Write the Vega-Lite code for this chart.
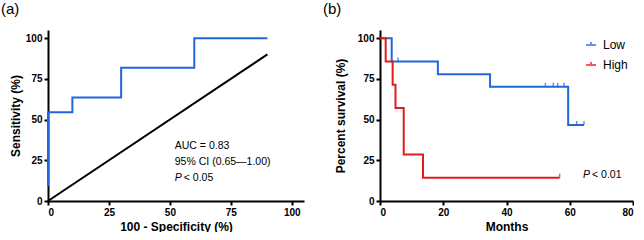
{
  "$schema": "https://vega.github.io/schema/vega-lite/v6.json",
  "padding": {"left": 1, "top": 2, "right": 0, "bottom": 0},
  "bounds": "flush",
  "spacing": 76,
  "config": {
    "font": "Liberation Sans",
    "view": {"stroke": null},
    "axis": {
      "domainColor": "black", "domainWidth": 2, "tickColor": "black", "tickWidth": 2, "tickSize": 4,
      "labelFont": "Liberation Sans", "labelFontWeight": "bold", "labelFontSize": 10, "labelColor": "black", "labelPadding": 2,
      "titleFont": "Liberation Sans", "titleFontWeight": "bold", "titleFontSize": 12, "titleColor": "black",
      "grid": false
    },
    "title": {"font": "Liberation Sans", "fontSize": 15, "fontWeight": "normal", "anchor": "start", "frame": "group", "color": "black", "offset": 13}
  },
  "datasets": {
    "roc": [
      {"i": 0, "fpr": 0, "sens": 9.09},
      {"i": 1, "fpr": 0, "sens": 54.5},
      {"i": 2, "fpr": 10, "sens": 63.6},
      {"i": 3, "fpr": 30, "sens": 81.8},
      {"i": 4, "fpr": 60, "sens": 100},
      {"i": 5, "fpr": 90, "sens": 100}
    ],
    "diag": [
      {"fpr": 0, "sens": 0},
      {"fpr": 90, "sens": 90}
    ],
    "km": [
      {"group": "Low", "i": 0, "t": 0, "s": 100},
      {"group": "Low", "i": 1, "t": 3.7, "s": 85.7},
      {"group": "Low", "i": 2, "t": 18.3, "s": 77.9},
      {"group": "Low", "i": 3, "t": 34.8, "s": 70.1},
      {"group": "Low", "i": 4, "t": 59.5, "s": 46.7},
      {"group": "Low", "i": 5, "t": 64.5, "s": 46.7},
      {"group": "High", "i": 0, "t": 0, "s": 100},
      {"group": "High", "i": 1, "t": 1.8, "s": 85.7},
      {"group": "High", "i": 2, "t": 4.0, "s": 71.4},
      {"group": "High", "i": 3, "t": 4.9, "s": 57.1},
      {"group": "High", "i": 4, "t": 7.5, "s": 28.6},
      {"group": "High", "i": 5, "t": 13.6, "s": 14.3},
      {"group": "High", "i": 6, "t": 56.8, "s": 14.3}
    ],
    "censor": [
      {"group": "Low", "t": 5.7, "s": 85.7},
      {"group": "Low", "t": 52.3, "s": 70.1},
      {"group": "Low", "t": 54.8, "s": 70.1},
      {"group": "Low", "t": 56.2, "s": 70.1},
      {"group": "Low", "t": 58.2, "s": 70.1},
      {"group": "Low", "t": 62.2, "s": 46.7},
      {"group": "Low", "t": 64.5, "s": 46.7},
      {"group": "High", "t": 56.8, "s": 14.3}
    ],
    "one": [{}]
  },
  "hconcat": [
    {
      "width": 256,
      "height": 171,
      "title": {"text": "(a)", "dx": -47},
      "layer": [
        {
          "data": {"name": "diag"},
          "mark": {"type": "line", "color": "black", "strokeWidth": 2},
          "encoding": {
            "x": {"field": "fpr", "type": "quantitative", "scale": {"domain": [0, 105], "nice": false},
                  "axis": {"values": [0, 25, 50, 75, 100], "title": "100 - Specificity (%)", "titlePadding": 4}},
            "y": {"field": "sens", "type": "quantitative", "scale": {"domain": [0, 105], "nice": false},
                  "axis": {"values": [0, 25, 50, 75, 100], "title": "Sensitivity (%)", "titlePadding": 3}}
          }
        },
        {
          "data": {"name": "roc"},
          "mark": {"type": "line", "interpolate": "step-after", "color": "#2266dd", "strokeWidth": 2},
          "encoding": {
            "x": {"field": "fpr", "type": "quantitative"},
            "y": {"field": "sens", "type": "quantitative"},
            "order": {"field": "i"}
          }
        },
        {
          "data": {"name": "one"},
          "mark": {"type": "text", "align": "left", "baseline": "middle", "fontSize": 10.5, "color": "black", "text": "AUC = 0.83"},
          "encoding": {"x": {"datum": 52}, "y": {"datum": 33.7}}
        },
        {
          "data": {"name": "one"},
          "mark": {"type": "text", "align": "left", "baseline": "middle", "fontSize": 10.5, "color": "black", "text": "95% CI (0.65—1.00)"},
          "encoding": {"x": {"datum": 52}, "y": {"datum": 23.9}}
        },
        {
          "data": {"name": "one"},
          "mark": {"type": "text", "align": "left", "baseline": "middle", "fontSize": 10.5, "fontStyle": "italic", "color": "black", "text": "P"},
          "encoding": {"x": {"datum": 52}, "y": {"datum": 14.1}}
        },
        {
          "data": {"name": "one"},
          "mark": {"type": "text", "align": "left", "baseline": "middle", "fontSize": 10.5, "color": "black", "text": "< 0.05", "dx": 9},
          "encoding": {"x": {"datum": 52}, "y": {"datum": 14.1}}
        }
      ]
    },
    {
      "width": 253,
      "height": 171,
      "title": {"text": "(b)", "dx": -57},
      "layer": [
        {
          "data": {"name": "km"},
          "mark": {"type": "line", "interpolate": "step-after", "strokeWidth": 2},
          "encoding": {
            "x": {"field": "t", "type": "quantitative", "scale": {"domain": [0, 80], "nice": false},
                  "axis": {"values": [0, 20, 40, 60, 80], "title": "Months", "titlePadding": 4}},
            "y": {"field": "s", "type": "quantitative", "scale": {"domain": [0, 105], "nice": false},
                  "axis": {"values": [0, 25, 50, 75, 100], "title": "Percent survival (%)", "titlePadding": 10}},
            "color": {"field": "group", "type": "nominal",
                      "scale": {"domain": ["Low", "High"], "range": ["#2266dd", "#e41a1c"]},
                      "legend": {"title": null, "orient": "none", "legendX": 537, "legendY": 9,
                                 "symbolType": "M-1,0H1M0,0V-0.6", "symbolSize": 100, "symbolStrokeWidth": 2,
                                 "labelFont": "Liberation Sans", "labelFontSize": 12, "labelColor": "black",
                                 "labelOffset": 6, "rowPadding": 7}},
            "order": {"field": "i"}
          }
        },
        {
          "data": {"name": "censor"},
          "mark": {"type": "tick", "orient": "vertical", "size": 4, "thickness": 1.5, "yOffset": -2},
          "encoding": {
            "x": {"field": "t", "type": "quantitative"},
            "y": {"field": "s", "type": "quantitative"},
            "color": {"field": "group", "type": "nominal"}
          }
        },
        {
          "data": {"name": "one"},
          "mark": {"type": "text", "align": "left", "baseline": "middle", "fontSize": 10.5, "fontStyle": "italic", "color": "black", "text": "P"},
          "encoding": {"x": {"datum": 64.2}, "y": {"datum": 16}}
        },
        {
          "data": {"name": "one"},
          "mark": {"type": "text", "align": "left", "baseline": "middle", "fontSize": 10.5, "color": "black", "text": "< 0.01", "dx": 9},
          "encoding": {"x": {"datum": 64.2}, "y": {"datum": 16}}
        }
      ]
    }
  ]
}
